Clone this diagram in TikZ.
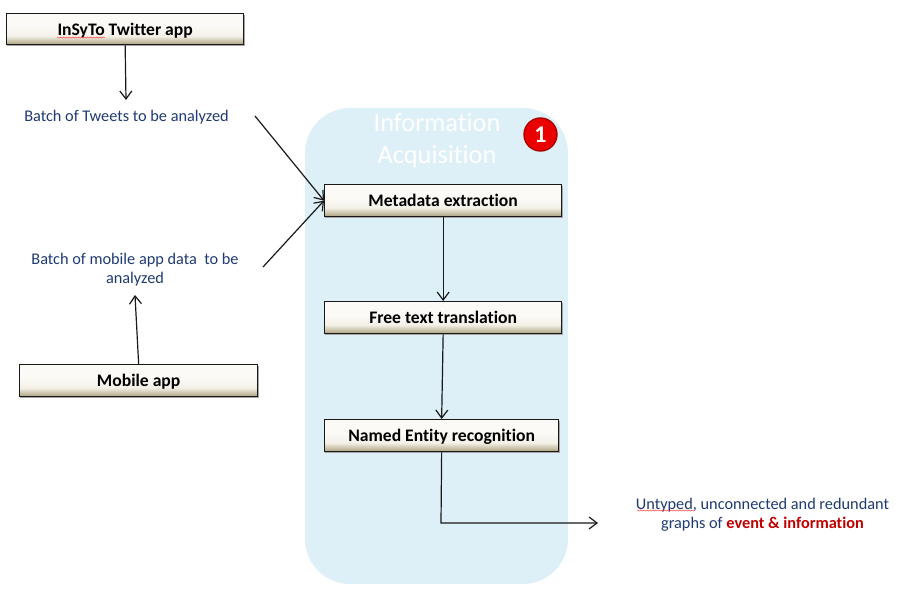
\documentclass[tikz,border=0pt]{standalone}
\usepackage{fontspec}
\setmainfont[RawFeature={-liga}]{Carlito}
\usetikzlibrary{arrows.meta,decorations.pathmorphing,calc}
\definecolor{panelblue}{HTML}{DEF0F7}
\definecolor{textblue}{HTML}{1F3A73}
\definecolor{accentred}{HTML}{C00000}
\definecolor{boxtop}{HTML}{FBFAF6}
\definecolor{boxmid}{HTML}{F4F1E8}
\definecolor{boxbot}{HTML}{AFA684}
\pgfdeclareverticalshading{boxshade}{100bp}{
  color(0bp)=(boxbot); color(26bp)=(boxbot); color(33bp)=(boxmid!55!boxbot); color(39bp)=(boxmid); color(55bp)=(boxtop); color(100bp)=(boxtop)}
\tikzset{
  x=1pt,y=-1pt,
  procbox/.style={draw=black!90,line width=1.3pt,shading=boxshade,minimum height=31pt,
    font=\fontsize{17.6}{21}\selectfont\bfseries,text=black,inner sep=0pt,anchor=north west,text height=12pt,text depth=0pt},
  boxshadow/.style={fill=black!35,draw=none},
  flow/.style={draw=black!90,line width=1.2pt,-{Straight Barb[length=8pt,width=12pt,line width=1.2pt]}},
  note/.style={text=textblue,font=\fontsize{16.3}{19.5}\selectfont,align=center,inner sep=0pt},
  squiggle/.style={draw=red!75,line width=0.5pt,decorate,decoration={snake,amplitude=0.6pt,segment length=3pt}}
}
\begin{document}
\begin{tikzpicture}
\useasboundingbox (0,0) rectangle (903,596);
\fill[panelblue,rounded corners=45pt] (305,108) rectangle (568,584);
\node[text=white,font=\fontsize{26.3}{32}\selectfont,align=center,inner sep=0pt] (title) at (437,141) {Information\\Acquisition};
\node[circle,draw={rgb,255:red,170;green,0;blue,0},line width=1.4pt,fill={rgb,255:red,235;green,0;blue,0},
  text=white,font=\fontsize{24}{24}\selectfont\bfseries,minimum size=33pt,inner sep=0pt] (badge) at (540.5,134.5) {1};

\fill[boxshadow] (7,15) rectangle (245,46);
\fill[boxshadow] (325,186) rectangle (563,218);
\fill[boxshadow] (325,303) rectangle (563,335);
\fill[boxshadow] (325,421) rectangle (560,453);
\fill[boxshadow] (20,366) rectangle (259,398);

\node[procbox,minimum width=237pt] (insyto) at (6,13) {InSyTo Twitter app};
\node[procbox,minimum width=237pt,minimum height=32pt] (meta) at (324,184) {Metadata extraction};
\node[procbox,minimum width=237pt,minimum height=32pt] (free) at (324,301) {Free text translation};
\node[procbox,minimum width=234pt,minimum height=32pt] (ner) at (324,419) {Named Entity recognition};
\node[procbox,minimum width=238pt,minimum height=32pt] (mobile) at (19,364) {Mobile app};

\node[note] (tweets) at (126.5,117) {Batch of Tweets to be analyzed};
\node[note] (mdata) at (135,269.5) {Batch of mobile app data\ \ to be\\analyzed};
\node[note] (graphs) at (762.5,514.5) {Untyped, unconnected and redundant\\graphs of \textcolor{accentred}{\bfseries event \& information}};

\coordinate (tweetsout) at (255,116);
\coordinate (mdataout) at (263,267);
\coordinate (tweetsin) at (126,100);
\coordinate (mdatain) at (135,295);
\coordinate (nerbend) at (441,523);
\coordinate (graphsin) at (598,523);

\draw[flow] (insyto.south) -- (tweetsin);
\draw[flow] (tweetsout) -- (meta.west);
\draw[flow] (mdataout) -- (meta.west);
\draw[flow] (mobile.north) -- (mdatain);
\draw[flow] (meta.south) -- (free.north);
\draw[flow] (free.south) -- (ner.north);
\draw[flow] (ner.south) -- (nerbend) -- (graphsin);

\coordinate (sq1a) at (57,37.5);
\coordinate (sq1b) at (105,37.5);
\coordinate (sq2a) at (637,510.5);
\coordinate (sq2b) at (695,510.5);
\draw[squiggle] (sq1a) -- (sq1b);
\draw[squiggle] (sq2a) -- (sq2b);
\end{tikzpicture}
\end{document}
